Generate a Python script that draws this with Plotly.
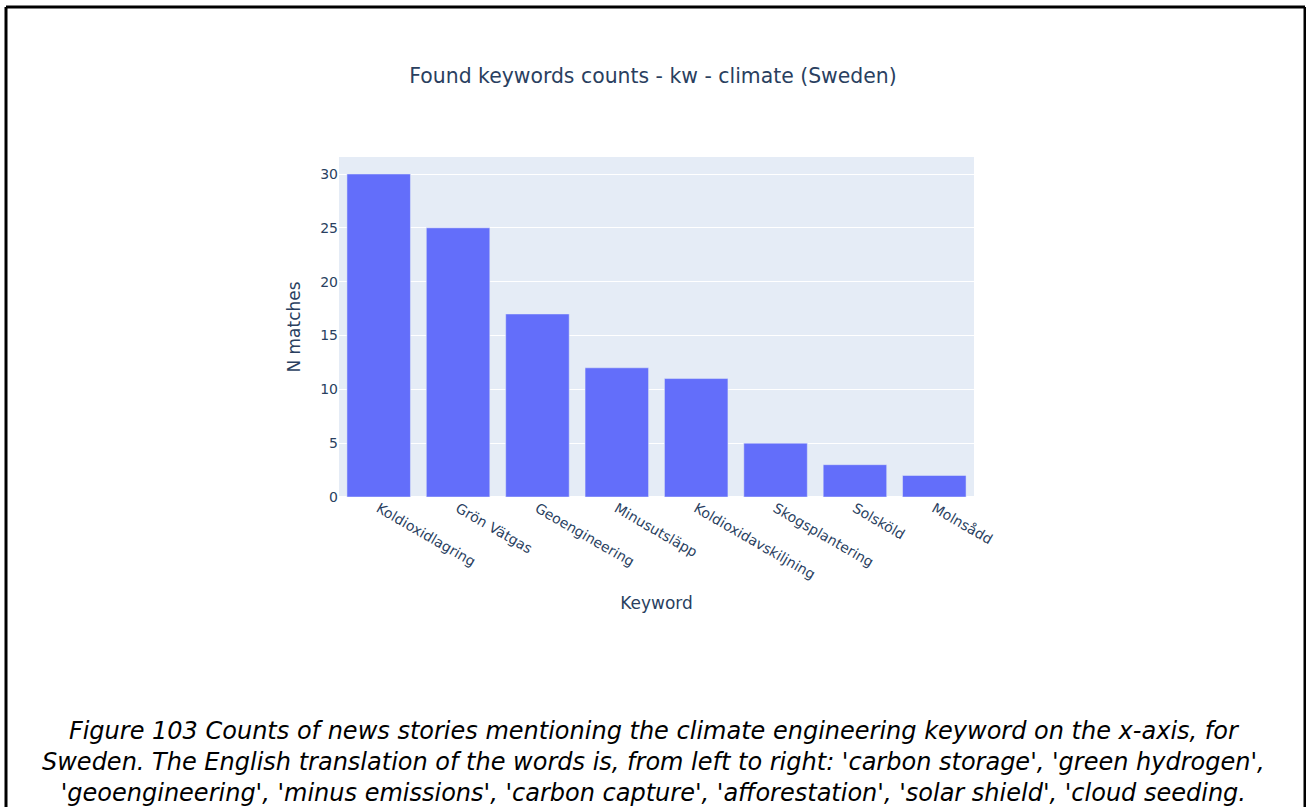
import plotly.graph_objects as go

# keyword counts (Sweden)
keywords = ['Koldioxidlagring', 'Grön Vätgas', 'Geoengineering', 'Minusutsläpp',
            'Koldioxidavskiljning', 'Skogsplantering', 'Solsköld', 'Molnsådd']
n_matches = [30, 25, 17, 12, 11, 5, 3, 2]

caption_lines = [
    "Figure 103 Counts of news stories mentioning the climate engineering keyword on the x-axis, for",
    "Sweden. The English translation of the words is, from left to right: 'carbon storage', 'green hydrogen',",
    "'geoengineering', 'minus emissions', 'carbon capture', 'afforestation', 'solar shield', 'cloud seeding.",
]

fig = go.Figure(go.Bar(x=keywords, y=n_matches, marker_color='#636efa'))

W, H = 1306, 807
L, R, T, B = 339, 332, 157, 310
pw, ph = W - L - R, H - T - B

def px_x(v):
    return (v - L) / pw

def px_y(v):
    return 1 - (v - T) / ph

fig.update_layout(
    template='plotly',
    width=W, height=H,
    margin=dict(l=L, r=R, t=T, b=B),
    font=dict(family='DejaVu Sans', size=14),
    title=dict(text='Found keywords counts - kw - climate (Sweden)', x=0.5,
               y=1 - 76 / H, yanchor='middle', font=dict(size=20.4)),
    xaxis=dict(title=dict(text='Keyword'), tickangle=30),
    yaxis=dict(title=dict(text='N matches')),
    paper_bgcolor='white',
    showlegend=False,
)

# frame around the figure
for x0, y0, x1, y1 in [(6, 7, 1305, 7), (6, 7, 6, 820), (1305, 7, 1305, 820)]:
    fig.add_shape(type='line', xref='paper', yref='paper',
                  x0=px_x(x0), y0=px_y(y0), x1=px_x(x1), y1=px_y(y1),
                  line=dict(color='black', width=3))

fig.add_annotation(
    text='<br>'.join(caption_lines),
    xref='paper', yref='paper', x=px_x(653), y=px_y(762),
    xanchor='center', yanchor='middle', showarrow=False,
    font=dict(family='DejaVu Sans', size=24, color='black', style='italic'),
    align='center',
)

fig.write_html('out.html', config={'displayModeBar': False},
               post_script="document.body.style.margin='0';")
